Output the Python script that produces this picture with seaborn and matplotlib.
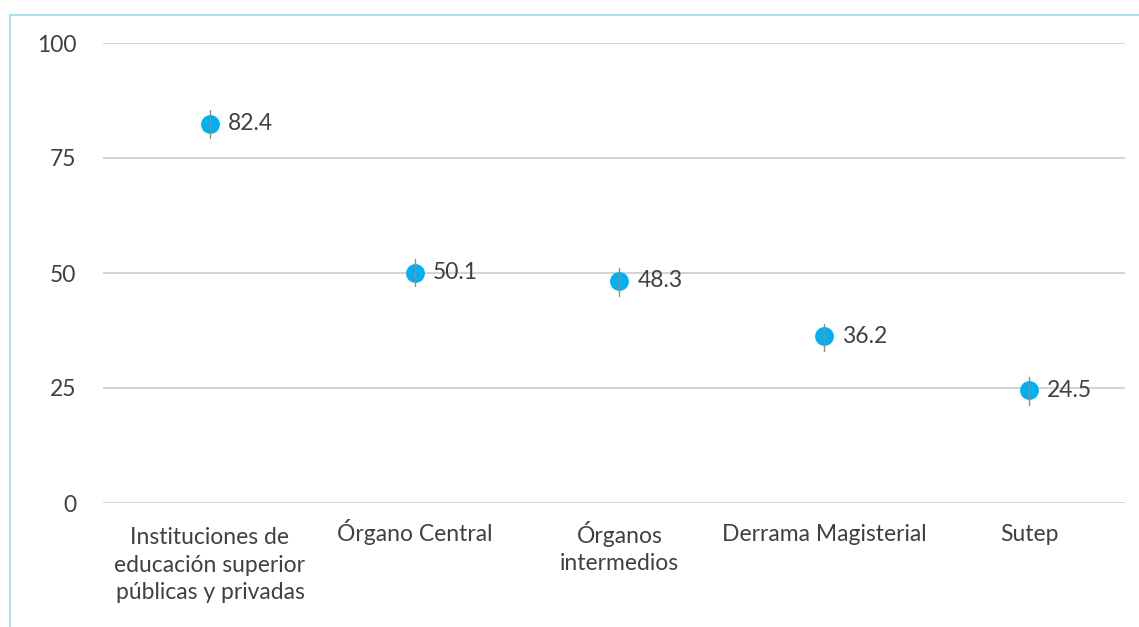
import matplotlib
matplotlib.use("Agg")
import matplotlib.pyplot as plt
import seaborn as sns
import pandas as pd
from matplotlib.lines import Line2D

categories = ["Instituciones de\neducación superior\npúblicas y privadas",
              "Órgano Central", "Órganos\nintermedios",
              "Derrama Magisterial", "Sutep"]
values = [82.4, 50.1, 48.3, 36.2, 24.5]
err_low = [79.4, 47.1, 45.0, 33.0, 21.3]
err_high = [85.4, 53.1, 51.0, 39.0, 27.3]
yticks = [0, 25, 50, 75, 100]

rows = []
for c, lo, v, hi in zip(categories, err_low, values, err_high):
    for val in (lo, v, hi):
        rows.append({"cat": c, "val": val})
df = pd.DataFrame(rows)

sns.set_theme(style="white")
plt.rcParams['font.family'] = ['Lato', 'DejaVu Sans']
text_color = "#404040"
fs = 16.5

fig = plt.figure(figsize=(11.39, 6.27), dpi=100)
ax = fig.add_axes([103/1139, (627-503)/627, (1125-103)/1139, 460/627])

sns.pointplot(data=df, x="cat", y="val", order=categories, estimator="median",
              errorbar=("pi", 100), color="#00B0F0", linestyle="none",
              markers="o", markersize=11.5, err_kws={"color": "#8c8c8c", "linewidth": 1},
              ax=ax, zorder=3)

for i, v in enumerate(values):
    ax.annotate(f"{v}", (i, v), xytext=(13, 0), textcoords="offset points",
                va="center", ha="left", fontsize=fs, color=text_color)

ax.set_ylim(0, 100)
ax.set_xlim(-0.5226, 4.469)
ax.set_yticks(yticks)
ax.set_yticklabels([str(t) for t in yticks])
ax.yaxis.grid(True, color="#d0d0d0", linewidth=1.3)
ax.set_axisbelow(True)
for s in ax.spines.values():
    s.set_visible(False)
ax.set_xlabel("")
ax.set_ylabel("")
ax.tick_params(axis="y", length=0, pad=19, labelsize=fs, labelcolor=text_color)
ax.tick_params(axis="x", length=0, labelbottom=False)

# category labels: first-line baseline 38 px below axis, 29 px between lines
px = 72 / fig.dpi
for i, c in enumerate(categories):
    n = c.count("\n") + 1
    ax.annotate(c, xy=(i, 0), xycoords=("data", "axes fraction"),
                xytext=(0, -(38 + 29 * (n - 1)) * px), textcoords="offset points",
                ha="center", va="baseline", multialignment="center",
                fontsize=fs, color=text_color, linespacing=1.38)

border = "#a8dcf2"
fig.add_artist(Line2D([10/1139, 10/1139], [0, 1 - 15/627], transform=fig.transFigure, color=border, linewidth=1.3))
fig.add_artist(Line2D([10/1139, 1], [1 - 15/627, 1 - 15/627], transform=fig.transFigure, color=border, linewidth=1.3))

fig.savefig("out.png", dpi=100)
